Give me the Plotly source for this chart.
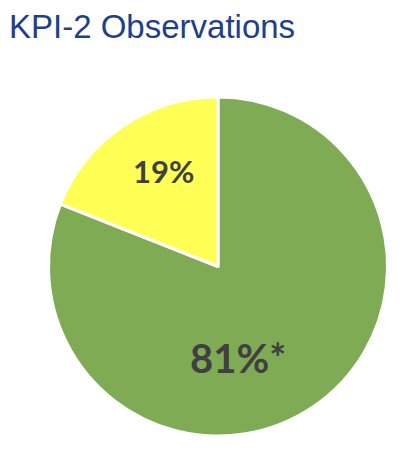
import plotly.graph_objects as go

# 数据
labels = ["Observed", "Other"]
values = [81, 19]
text_labels = ["81%*", "19%"]
colors = ["#7FAB55", "#FFFF55"]

fig = go.Figure()
fig.add_trace(go.Pie(
    labels=labels, values=values,
    textinfo="none",
    sort=False, direction="clockwise", rotation=0,
    marker=dict(colors=colors, line=dict(color="white", width=3)),
    domain=dict(x=[40 / 408, 380 / 408], y=[1 - 428 / 450, 1 - 89 / 450]),
    showlegend=False, hoverinfo="label+percent",
))

# 标签位置（纸面坐标）
label_pos = [(0.564, 0.222, 40), (0.380, 0.638, 31)]
for txt, (px, py, sz) in zip(text_labels, label_pos):
    fig.add_annotation(text=txt, x=px, y=py, xref="paper", yref="paper",
                       showarrow=False, xanchor="center", yanchor="middle",
                       font=dict(family="Lato", size=sz, color="#404040", weight="bold"))

fig.update_layout(
    title=dict(text="KPI-2 Observations", x=1 / 408, xanchor="left", y=0.958, yanchor="middle",
               font=dict(family="Liberation Sans", size=33, color="#1F3F8C")),
    width=408, height=450,
    margin=dict(l=0, r=0, t=0, b=0),
    paper_bgcolor="white", plot_bgcolor="white",
)

fig.write_html("out.html")
